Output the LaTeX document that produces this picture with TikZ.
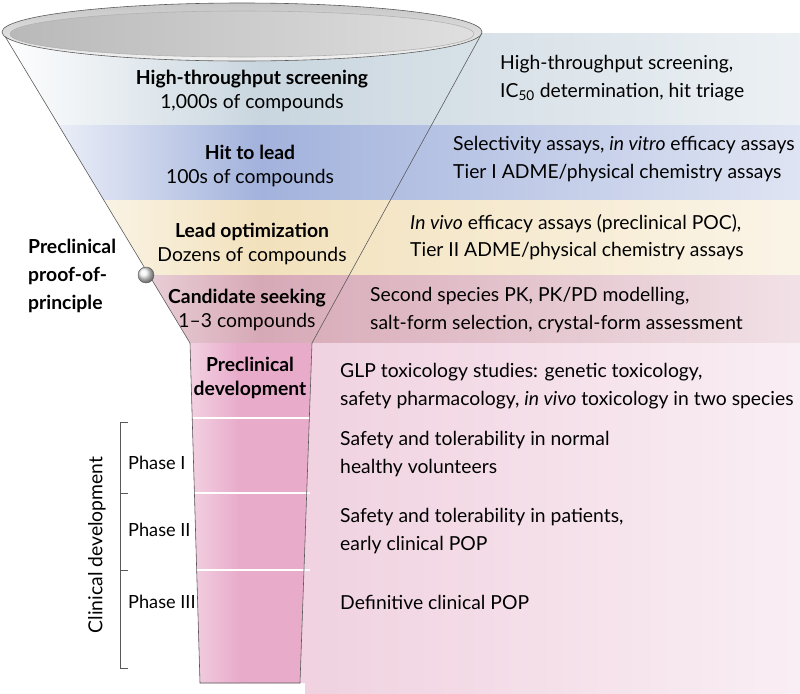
\documentclass[tikz,border=0pt]{standalone}
\usepackage{fontspec}
\setmainfont{Lato}
\begin{document}
\begin{tikzpicture}[x=0.03cm,y=-0.03cm,
  lbl/.style={font=\fontsize{16.5}{20}\selectfont, align=center, inner sep=0},
  rt/.style={font=\fontsize{16.5}{23.5}\selectfont, align=left, anchor=west, inner sep=0},
  lt/.style={font=\fontsize{15.5}{18}\selectfont, anchor=west, inner sep=0}]
\definecolor{cA}{HTML}{C9D6DF}
\definecolor{cB}{HTML}{A2B2DC}
\definecolor{cC}{HTML}{F2E1BC}
\definecolor{cD}{HTML}{D7A9B7}
\definecolor{cE}{HTML}{EFCFDE}
\definecolor{cT}{HTML}{E8ABCA}
\useasboundingbox (0,0) rectangle (800,694);
\begin{scope}
\clip (3,33)--(190,343)--(200,683)--(305,683)--(305,694)--(800,694)--(800,33)--cycle;
\foreach \a/\b/\c in {33/125/cA,125/200/cB,200/275/cC,275/343/cD,343/694/cE}{
  \shade[left color=white,right color=\c] (0,\a) rectangle (260,\b);
  \shade[left color=\c,right color=\c!35] (259,\a) rectangle (800,\b);
}
\end{scope}
% tube
\fill[cT] (190,343)--(200,683)--(300,683)--(312,343)--cycle;
\shade[left color=cT!55!white,right color=cT] (190,343)--(200,683)--(240,683)--(236,343)--cycle;
\foreach \y in {418,493,570}{\draw[white,line width=1.2pt] (191,\y)--(310,\y);}
\draw[gray!70!black,line width=0.5pt] (3,33)--(190,343)--(200,683)--(300,683)--(312,343)--(482,33);
% rim
\shade[top color=gray!45,bottom color=gray!10,draw=gray!70!black,line width=0.5pt] (242,32) ellipse [x radius=240,y radius=29];
\shade[left color=gray!55,right color=gray!25,draw=gray!60,line width=0.5pt] (242,34) ellipse [x radius=232,y radius=23];
% circle
\shade[ball color=gray!10,draw=gray!70!black] (146,275) circle (8);
% funnel labels
\node[lbl] (hts) at (252,91) {\textbf{High-throughput screening}\\1,000s of compounds};
\node[lbl] (htl) at (250,166) {\textbf{Hit to lead}\\100s of compounds};
\node[lbl] (lo) at (252,244) {\textbf{Lead optimization}\\Dozens of compounds};
\node[lbl] (cs) at (247,310) {\textbf{Candidate seeking}\\1--3 compounds};
\node[lbl] (pd) at (250,378) {\textbf{Preclinical}\\\textbf{development}};
\node[lt] (p1) at (128,463) {Phase I};
\node[lt] (p2) at (128,530) {Phase II};
\node[lt] (p3) at (128,602) {Phase III};
\node[font=\fontsize{16.5}{24}\selectfont\bfseries, align=left, anchor=west, inner sep=0] (ppp) at (28,276) {Preclinical\\proof-of-\\principle};
% right texts
\node[rt] (r1) at (500,78) {High-throughput screening,\\IC\textsubscript{50} determination, hit triage};
\node[rt] (r2) at (453,159) {Selectivity assays, \textit{in vitro} efficacy assays\\Tier I ADME/physical chemistry assays};
\node[rt] (r3) at (410,237) {\textit{In vivo} efficacy assays (preclinical POC),\\Tier II ADME/physical chemistry assays};
\node[rt] (r4) at (370,310) {Second species PK, PK/PD modelling,\\salt-form selection, crystal-form assessment};
\node[rt] (r5) at (340,386) {GLP toxicology studies: genetic toxicology,\\safety pharmacology, \textit{in vivo} toxicology in two species};
\node[rt] (r6) at (340,454) {Safety and tolerability in normal\\healthy volunteers};
\node[rt] (r7) at (340,531) {Safety and tolerability in patients,\\early clinical POP};
\node[rt] (r8) at (340,602) {Definitive clinical POP};
% bracket
\coordinate (bt) at (120,422); \coordinate (bb) at (120,668);
\draw[gray!70!black,line width=0.6pt] (128,422)--(bt)--(bb)--(128,668);
\draw[gray!70!black,line width=0.6pt] (120,493)--(128,493) (120,570)--(128,570);
\node[rotate=90, font=\fontsize{16.5}{18}\selectfont, inner sep=0] (cd) at (97,545) {Clinical development};
\end{tikzpicture}
\end{document}
